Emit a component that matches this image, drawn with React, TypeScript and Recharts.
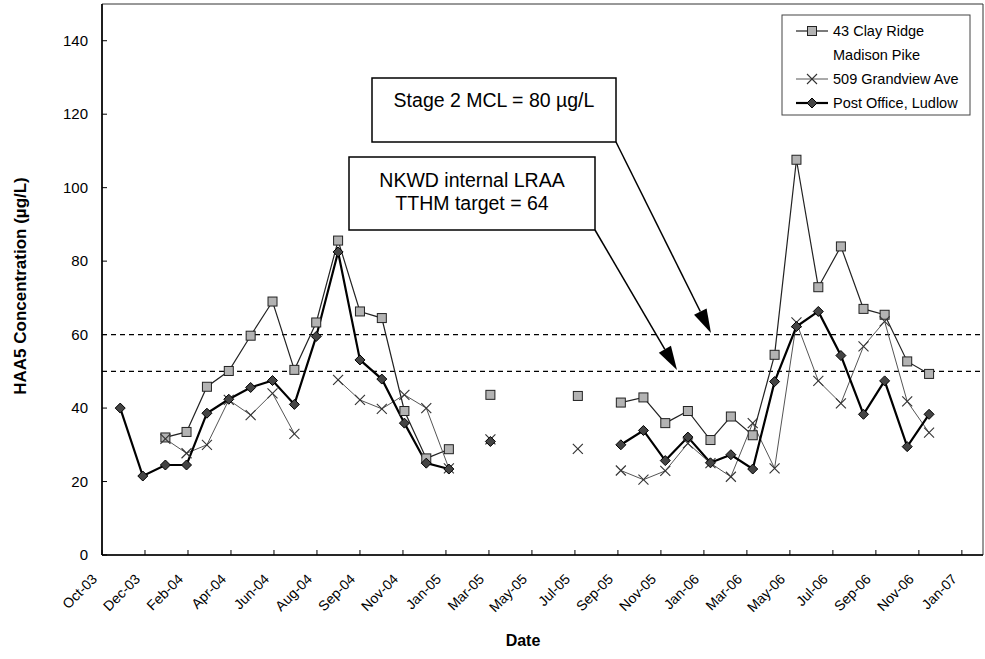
import React from 'react';
import { LineChart, Line, XAxis, YAxis, ReferenceLine, ReferenceArea } from 'recharts';

// sampling dates (one row per sampling round, null rows = months without samples)
const sampleDates = [
  '2003-11-05', '2003-12-06', '2004-01-06', '2004-02-04', '2004-03-03', '2004-04-02',
  '2004-05-02', '2004-06-01', '2004-07-01', '2004-07-31', '2004-08-30', '2004-09-29',
  '2004-10-29', '2004-11-29', '2004-12-29', '2005-01-29', '2005-02-27', '2005-03-27',
  '2005-05-26', '2005-07-25', '2005-08-24', '2005-09-22', '2005-10-23', '2005-11-22',
  '2005-12-23', '2006-01-23', '2006-02-20', '2006-03-22', '2006-04-21', '2006-05-21',
  '2006-06-20', '2006-07-21', '2006-08-21', '2006-09-19', '2006-10-20', '2006-11-19',
];

const clayRidge = [
  null, null, 32, 33.5, 45.8, 50.1, 59.7, 69, 50.4, 63.3, 85.6, 66.3,
  64.5, 39.2, 26.3, 28.8, null, 43.6, null, 43.3, null, 41.5, 42.9, 35.9,
  39.2, 31.3, 37.7, 32.6, 54.5, 107.6, 72.9, 84, 67, 65.4, 52.7, 49.3,
];

const grandview = [
  null, null, 31.6, 27.7, 30, 42.2, 38.1, 44, 33, null, 47.7, 42.2,
  39.8, 43.6, 40, 23.6, null, 31.5, null, 28.9, null, 23, 20.5, 22.9,
  30.4, 25, 21.3, 35.9, 23.6, 63.3, 47.4, 41.3, 56.8, 63.6, 41.8, 33.3,
];

const postOffice = [
  40, 21.5, 24.5, 24.5, 38.6, 42.4, 45.6, 47.5, 41, 59.5, 82.5, 53.1,
  47.9, 35.9, 25, 23.4, null, 30.9, null, null, null, 30, 33.9, 25.7,
  32.1, 25.1, 27.3, 23.4, 47.2, 62.2, 66.3, 54.3, 38.3, 47.4, 29.5, 38.3,
];

const tickLabels = [
  'Oct-03', 'Dec-03', 'Feb-04', 'Apr-04', 'Jun-04', 'Aug-04', 'Sep-04', 'Nov-04',
  'Jan-05', 'Mar-05', 'May-05', 'Jul-05', 'Sep-05', 'Nov-05', 'Jan-06', 'Mar-06',
  'May-06', 'Jul-06', 'Sep-06', 'Nov-06', 'Jan-07',
];
const yTicks = [0, 20, 40, 60, 80, 100, 120, 140];
const mclLine = 60;
const targetLine = 50;

// Excel date axis: starts 11-Oct-2003, major unit 59 days
const AXIS_START = Date.UTC(2003, 9, 11);
const TICK_DAYS = 59;
const AXIS_END = 1209;

const dayOf = (d: string) => (Date.parse(d) - AXIS_START) / 86400000;

const rows = sampleDates.map((d, i) => ({
  day: dayOf(d),
  clay: clayRidge[i],
  grand: grandview[i],
  post: postOffice[i],
}));

const xTicks = tickLabels.map((_, i) => i * TICK_DAYS);

const FONT = 'Arial, "Liberation Sans", sans-serif';

const SquareDot = (p: any) => {
  if (p.cx == null || p.cy == null || p.value == null) return <g key={p.key} />;
  return <rect key={p.key} x={p.cx - 4.5} y={p.cy - 4.5} width={9} height={9} fill="#b3b3b3" stroke="#222" strokeWidth={1} />;
};

const CrossDot = (p: any) => {
  if (p.cx == null || p.cy == null || p.value == null) return <g key={p.key} />;
  const s = 5;
  return (
    <g key={p.key} stroke="#333" strokeWidth={1.1}>
      <line x1={p.cx - s} y1={p.cy - s} x2={p.cx + s} y2={p.cy + s} />
      <line x1={p.cx - s} y1={p.cy + s} x2={p.cx + s} y2={p.cy - s} />
    </g>
  );
};

const DiamondDot = (p: any) => {
  if (p.cx == null || p.cy == null || p.value == null) return <g key={p.key} />;
  const s = 5;
  return (
    <polygon key={p.key}
      points={`${p.cx},${p.cy - s} ${p.cx + s},${p.cy} ${p.cx},${p.cy + s} ${p.cx - s},${p.cy}`}
      fill="#444" stroke="#000" strokeWidth={1} />
  );
};

const XTick = ({ x, y, payload }: any) => {
  const label = tickLabels[Math.round(payload.value / TICK_DAYS)];
  return (
    <g>
      <line x1={x} x2={x} y1={y} y2={y - 5} stroke="#000" />
      <text transform={`translate(${x - 4},${y + 25}) rotate(-45)`} textAnchor="end"
        fontSize={14} fontFamily={FONT} fill="#000">{label}</text>
    </g>
  );
};

const YTick = ({ x, y, payload }: any) => (
  <g>
    <line x1={x} x2={x + 5} y1={y} y2={y} stroke="#000" />
    <text x={x - 14} y={y + 5} textAnchor="end" fontSize={15} fontFamily={FONT} fill="#000">{payload.value}</text>
  </g>
);

function arrowHead(x1: number, y1: number, x2: number, y2: number, len = 24, half = 7) {
  const dx = x2 - x1, dy = y2 - y1;
  const L = Math.hypot(dx, dy);
  const ux = dx / L, uy = dy / L;
  const bx = x2 - ux * len, by = y2 - uy * len;
  return {
    base: [bx, by],
    points: `${x2},${y2} ${bx - uy * half},${by + ux * half} ${bx + uy * half},${by - ux * half}`,
  };
}

const Arrow = ({ x1, y1, x2, y2 }: { x1: number; y1: number; x2: number; y2: number }) => {
  const h = arrowHead(x1, y1, x2, y2);
  return (
    <g>
      <line x1={x1} y1={y1} x2={h.base[0]} y2={h.base[1]} stroke="#000" strokeWidth={1.5} />
      <polygon points={h.points} fill="#000" />
    </g>
  );
};

const legendRows = [
  { name: '43 Clay Ridge', kind: 'square' },
  { name: 'Madison Pike', kind: 'none' },
  { name: '509 Grandview Ave', kind: 'cross' },
  { name: 'Post Office, Ludlow', kind: 'diamond' },
];

const Overlay = () => (
  <svg width={985} height={659} style={{ position: 'absolute', left: 0, top: 0, pointerEvents: 'none' }}
    fontFamily={FONT}>
    {/* legend */}
    <rect x={782} y={15} width={188} height={100} fill="#fff" stroke="#444" strokeWidth={1} />
    {legendRows.map((r, i) => {
      const cy = 31 + i * 24;
      return (
        <g key={r.name}>
          {r.kind === 'square' && (
            <g>
              <line x1={796} x2={828} y1={cy} y2={cy} stroke="#222" strokeWidth={1.2} />
              <SquareDot cx={812} cy={cy} value={1} />
            </g>
          )}
          {r.kind === 'cross' && (
            <g>
              <line x1={796} x2={828} y1={cy} y2={cy} stroke="#555" strokeWidth={1} />
              <CrossDot cx={812} cy={cy} value={1} />
            </g>
          )}
          {r.kind === 'diamond' && (
            <g>
              <line x1={796} x2={828} y1={cy} y2={cy} stroke="#000" strokeWidth={2.2} />
              <DiamondDot cx={812} cy={cy} value={1} />
            </g>
          )}
          <text x={833} y={cy + 5} fontSize={14.5} fill="#000">{r.name}</text>
        </g>
      );
    })}

    {/* annotations */}
    <rect x={372} y={78} width={244} height={64} fill="#fff" stroke="#000" strokeWidth={1.5} />
    <text x={494} y={107} textAnchor="middle" fontSize={19.5} fill="#000">Stage 2 MCL = 80 µg/L</text>
    <rect x={349} y={157} width={246} height={73} fill="#fff" stroke="#000" strokeWidth={1.5} />
    <text x={472} y={187} textAnchor="middle" fontSize={19.5} fill="#000">NKWD internal LRAA</text>
    <text x={472} y={210} textAnchor="middle" fontSize={19.5} fill="#000">TTHM target = 64</text>
    <Arrow x1={616} y1={142} x2={711} y2={333} />
    <Arrow x1={595} y1={230} x2={677} y2={370} />

    {/* axis titles */}
    <text transform="translate(26,286) rotate(-90)" textAnchor="middle" fontSize={17} fontWeight="bold" fill="#000">
      HAA5 Concentration (µg/L)
    </text>
    <text x={523} y={646} textAnchor="middle" fontSize={16} fontWeight="bold" fill="#000">Date</text>
  </svg>
);

export default function App() {
  return (
    <div style={{ position: 'absolute', left: 0, top: 0, width: 985, height: 659, background: '#fff' }}>
      <LineChart width={985} height={659} data={rows} margin={{ top: 4, right: 2, left: 42, bottom: 74 }}>
        <XAxis dataKey="day" type="number" domain={[0, AXIS_END]} ticks={xTicks} interval={0}
          allowDataOverflow height={30} tickSize={0} tickMargin={0} tick={<XTick />}
          axisLine={{ stroke: '#000', strokeWidth: 1.6 }} tickLine={false} />
        <YAxis type="number" domain={[0, 150]} ticks={yTicks} interval={0} allowDataOverflow
          width={60} tickSize={0} tickMargin={0} tick={<YTick />}
          axisLine={{ stroke: '#000', strokeWidth: 1.6 }} tickLine={false} />
        <ReferenceArea x1={0} x2={AXIS_END} y1={0} y2={150} fill="none" stroke="#333" strokeWidth={1} />
        <ReferenceLine y={mclLine} stroke="#000" strokeWidth={1.2} strokeDasharray="5 4" />
        <ReferenceLine y={targetLine} stroke="#000" strokeWidth={1.2} strokeDasharray="5 4" />
        <Line dataKey="clay" name="43 Clay Ridge" stroke="#222" strokeWidth={1.2} dot={SquareDot}
          activeDot={false} connectNulls={false} isAnimationActive={false} type="linear" />
        <Line dataKey="grand" name="509 Grandview Ave" stroke="#555" strokeWidth={1} dot={CrossDot}
          activeDot={false} connectNulls={false} isAnimationActive={false} type="linear" />
        <Line dataKey="post" name="Post Office, Ludlow" stroke="#000" strokeWidth={2.2} dot={DiamondDot}
          activeDot={false} connectNulls={false} isAnimationActive={false} type="linear" />
      </LineChart>
      <Overlay />
    </div>
  );
}
